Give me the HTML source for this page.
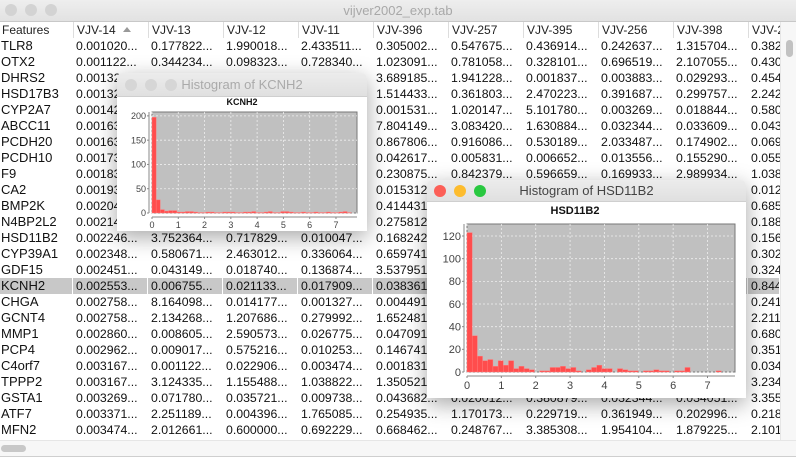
<!DOCTYPE html>
<html><head><meta charset="utf-8">
<style>
body{margin:0;width:796px;height:457px;overflow:hidden;background:#fff;font-family:"Liberation Sans",sans-serif;position:relative}
.abs{position:absolute}
#titlebar{left:0;top:0;width:796px;height:21px;background:linear-gradient(#eeeeee,#e2e2e2);border-bottom:1px solid #c8c8c8}
.dot{position:absolute;width:12px;height:12px;border-radius:50%;top:4px}
#maintitle{left:0;width:796px;top:3px;text-align:center;font-size:13px;color:#a8a8a8}
.hdr{position:absolute;top:22px;height:16px;font-size:12px;line-height:16px;color:#222;border-left:1px solid #ddd;padding-left:3px;box-sizing:border-box;white-space:nowrap;overflow:hidden}
.cell{position:absolute;height:16px;font-size:12.3px;line-height:16px;color:#111;white-space:nowrap;overflow:hidden;box-sizing:border-box;padding-left:3px}
.win{position:absolute;background:#fff;box-shadow:0 6px 22px rgba(0,0,0,0.35);border-radius:5px 5px 0 0;overflow:hidden}
.wtb{position:absolute;left:0;top:0;width:100%;background:linear-gradient(#ececec,#e0e0e0);border-bottom:1px solid #cfcfcf}
.wtt{position:absolute;width:100%;text-align:center;font-size:13px}
</style></head><body>
<div id="titlebar" class="abs">
 <div class="dot" style="left:5px;background:#d3d3d3"></div>
 <div class="dot" style="left:25px;background:#d3d3d3"></div>
 <div class="dot" style="left:45px;background:#d3d3d3"></div>
 <div id="maintitle" class="abs">vijver2002_exp.tab</div>
</div>
<div id="table"></div>
<div class="abs" style="left:780px;top:22px;width:16px;height:418px;background:#f7f7f7;border-left:1px solid #e6e6e6">
 <div class="abs" style="left:5px;top:18px;width:7px;height:17px;border-radius:4px;background:#c2c2c2"></div>
</div>
<div class="abs" style="left:0;top:440px;width:796px;height:15px;background:#f7f7f7;border-top:1px solid #e6e6e6;border-bottom:1px solid #cfcfcf">
 <div class="abs" style="left:1px;top:4px;width:25px;height:7px;border-radius:4px;background:#c8c8c8"></div>
</div>

<div class="win" style="left:117px;top:73px;width:250px;height:158px">
 <div class="wtb" style="height:23px">
  <div class="dot" style="left:8px;top:6px;background:#d6d6d6"></div>
  <div class="dot" style="left:28px;top:6px;background:#d6d6d6"></div>
  <div class="dot" style="left:48px;top:6px;background:#d6d6d6"></div>
  <div class="wtt" style="top:4px;color:#aaa">Histogram of KCNH2</div>
 </div>
 <svg id="svgK" class="abs" style="left:0;top:0" width="250" height="158"></svg>
</div>

<div class="win" style="left:427px;top:180px;width:319px;height:218px">
 <div class="wtb" style="height:21px">
  <div class="dot" style="left:7px;top:5px;background:#fc5f57"></div>
  <div class="dot" style="left:27px;top:5px;background:#fdbc2e"></div>
  <div class="dot" style="left:47px;top:5px;background:#29c840"></div>
  <div class="wtt" style="top:3px;color:#444">Histogram of HSD11B2</div>
 </div>
 <svg id="svgH" class="abs" style="left:0;top:0" width="319" height="218"></svg>
</div>

<script>
const headers=["Features","VJV-14","VJV-13","VJV-12","VJV-11","VJV-396","VJV-257","VJV-395","VJV-256","VJV-398","VJV-2"];
const genes=["TLR8","OTX2","DHRS2","HSD17B3","CYP2A7","ABCC11","PCDH20","PCDH10","F9","CA2","BMP2K","N4BP2L2","HSD11B2","CYP39A1","GDF15","KCNH2","CHGA","GCNT4","MMP1","PCP4","C4orf7","TPPP2","GSTA1","ATF7","MFN2"];
const c14=["0.001020","0.001122","0.001326","0.001326","0.001428","0.001633","0.001633","0.001735","0.001837","0.001939","0.002041","0.002143","0.002246","0.002348","0.002451","0.002553","0.002758","0.002758","0.002860","0.002962","0.003167","0.003167","0.003269","0.003371","0.003474"];
const c13=["0.177822","0.344234","0.412300","0.231100","0.120400","0.551200","0.092100","0.310200","0.041200","0.220100","0.120300","0.501100","3.752364","0.580671","0.043149","0.006755","8.164098","2.134268","0.008605","0.009017","0.001122","3.124335","0.071780","2.251189","2.012661"];
const c12=["1.990018","0.098323","0.512000","0.041200","0.231200","0.120000","0.640100","0.012300","0.330200","0.091000","0.210200","0.040100","0.717829","2.463012","0.018740","0.021133","0.014177","1.207686","2.590573","0.575216","0.022906","1.155488","0.035721","0.004396","0.600000"];
const c11=["2.433511","0.728340","0.230100","0.410200","0.051200","0.712300","0.020100","0.114300","0.220300","0.031200","0.410100","0.120200","0.010047","0.336064","0.136874","0.017909","0.001327","0.279992","0.026775","0.010253","0.003474","1.038822","0.009738","1.765085","0.692229"];
const c396=["0.305002","1.023091","3.689185","1.514433","0.001531","7.804149","0.867806","0.042617","0.230875","0.015312","0.414431","0.275812","0.168242","0.659741","3.537951","0.038361","0.004491","1.652481","0.047091","0.146741","0.001831","1.350521","0.043682","0.254935","0.668462"];
const c257=["0.547675","0.781058","1.941228","0.361803","1.020147","3.083420","0.916086","0.005831","0.842379","0.120100","0.331200","0.041200","0.212300","0.051200","0.410200","0.022100","0.310200","0.120300","0.051200","0.230100","0.011200","0.410200","0.020012","1.170173","0.248767"];
const c395=["0.436914","0.328101","0.001837","2.470223","5.101780","1.630884","0.530189","0.006652","0.596659","0.231200","0.110300","0.520100","0.041200","0.311200","0.120300","0.051200","0.214100","0.031200","0.610100","0.021200","0.120100","0.330100","0.380879","0.229719","3.385308"];
const c256=["0.242637","0.696519","0.003883","0.391687","0.003269","0.032344","2.033487","0.013556","0.169933","0.120100","0.230200","0.041100","0.310300","0.020100","0.110200","0.052300","0.410100","0.031200","0.210100","0.120200","0.041300","0.220100","0.032344","0.361949","1.954104"];
const c398=["1.315704","2.107055","0.029293","0.299757","0.018844","0.033609","0.174902","0.155290","2.989934","0.120100","0.310200","0.041300","0.220100","0.051200","0.130100","0.210200","0.031100","0.410100","0.120200","0.052100","0.021100","0.310100","0.034051","0.202996","1.879225"];
const c2=["0.382","0.430","0.454","2.242","0.580","0.043","0.069","0.055","1.038","0.012","0.685","0.188","0.156","0.302","0.324","0.844","0.241","2.211","0.680","0.351","0.034","3.234","3.355","0.218","2.101"];
const cols=[c14,c13,c12,c11,c396,c257,c395,c256,c398,c2];
const tbl=document.getElementById('table');
const colX=[0,73,148,223,298,373,448,523,598,673,748];
headers.forEach((h,i)=>{
  const d=document.createElement('div');d.className='hdr';
  d.style.left=colX[i]+'px';d.style.width=((i<10?colX[i+1]:780)-colX[i])+'px';
  if(i==0){d.style.borderLeft='none';d.style.paddingLeft='2px';}
  d.textContent=h;
  
  
  tbl.appendChild(d);
});
const arrow=document.createElement('div');
arrow.className='abs';arrow.style.cssText='left:123px;top:27px;width:0;height:0;border-left:4px solid transparent;border-right:4px solid transparent;border-bottom:5px solid #999';


tbl.appendChild(arrow);
genes.forEach((g,r)=>{
  const top=38+16*r;
  const sel=(g==='KCNH2');
  for(let c=0;c<11;c++){
    const d=document.createElement('div');d.className='cell';
    const w=((c<10?colX[c+1]:780)-colX[c]);
    d.style.left=colX[c]+'px';d.style.top=top+'px';d.style.width=w+'px';
    if(c==0){d.style.fontSize='13px';d.style.paddingLeft='1px';d.textContent=g;}
    else d.textContent=cols[c-1][r]+(c<10?'...':'');
    if(sel){d.style.background='#c8c8c8';d.style.borderRight='1px solid #fff';}
    
    
    tbl.appendChild(d);
  }
});

const NS='http://www.w3.org/2000/svg';
function el(svg,tag,attrs,name){const e=document.createElementNS(NS,tag);for(const k in attrs)e.setAttribute(k,attrs[k]);
  
  
  svg.appendChild(e);return e;}

const kcnhCounts=[197,27,7,4,5,5,2,2,3,3,2,1,1,2,2,1,1,2,2,2,1,1,2,2,3,1,1,2,3,1,1,3,3,2,1,1,2,1,1,2,1,1,2,1,1,2,3,1];
const kcnhBinWidth=0.158;
const kcnhYTicks=[0,50,100,150,200];
const kcnhXTicks=[0,1,2,3,4,5,6,7];
const hsdCounts=[123,32,14,10,11,5,10,6,10,3,5,3,2,0,1,1,4,4,5,3,4,1,0,2,4,6,3,3,0,3,2,1,1,0,1,1,2,1,1,0,1,1,4,0,0,0,0,0,1];
const hsdBinWidth=0.151;
const hsdYTicks=[0,20,40,60,80,100,120];
const hsdXTicks=[0,1,2,3,4,5,6,7];

function hist(svg,o){
  const {L,R,T,B,xmax,ymax,counts,bw,yt,xt,title,tx,ty,fs}=o;
  const sx=v=>L+(v/xmax)*(R-L), sy=v=>B-(v/ymax)*(B-T);
  el(svg,'text',{x:tx,y:ty,'text-anchor':'middle','font-size':fs,'font-weight':'bold','font-family':'Liberation Sans, sans-serif',fill:'#111'},'chart-title').textContent=title;
  el(svg,'rect',{x:L,y:T,width:R-L,height:B-T,fill:'#c0c0c0',stroke:'#777','stroke-width':1},'plot-area');
  xt.forEach(v=>el(svg,'line',{x1:sx(v),x2:sx(v),y1:T,y2:B,stroke:'#eee','stroke-dasharray':'2,2','stroke-width':0.8},'x-gridline'));
  yt.forEach(v=>el(svg,'line',{x1:L,x2:R,y1:sy(v),y2:sy(v),stroke:'#eee','stroke-dasharray':'2,2','stroke-width':0.8},'y-gridline'));
  counts.forEach((c,i)=>{ if(c>0) el(svg,'rect',{x:sx(i*bw),y:sy(c),width:sx(bw)-sx(0),height:B-sy(c),fill:'#ff4d4d',stroke:'#ff8080','stroke-width':0.4},'histogram-bar');});
  el(svg,'line',{x1:L-3,x2:L-3,y1:T,y2:B,stroke:'#888'},'y-axis-line');
  el(svg,'line',{x1:L,x2:R,y1:B+4,y2:B+4,stroke:'#888'},'x-axis-line');
  yt.forEach(v=>{el(svg,'line',{x1:L-5,x2:L-3,y1:sy(v),y2:sy(v),stroke:'#888'},'y-tick');
    el(svg,'text',{x:L-6,y:sy(v)+fs*0.35,'text-anchor':'end','font-size':fs,fill:'#444','font-family':'Liberation Sans, sans-serif'},'y-tick-label').textContent=v;});
  xt.forEach(v=>{el(svg,'line',{x1:sx(v),x2:sx(v),y1:B+4,y2:B+6,stroke:'#888'},'x-tick');
    el(svg,'text',{x:sx(v),y:B+6+fs,'text-anchor':'middle','font-size':fs,fill:'#444','font-family':'Liberation Sans, sans-serif'},'x-tick-label').textContent=v;});
}
hist(document.getElementById('svgK'),{L:35,R:240,T:39,B:140,xmax:7.8,ymax:208,counts:kcnhCounts,bw:kcnhBinWidth,yt:kcnhYTicks,xt:kcnhXTicks,title:'KCNH2',tx:125,ty:32,fs:9});
hist(document.getElementById('svgH'),{L:40,R:308,T:44,B:192,xmax:7.8,ymax:130.6,counts:hsdCounts,bw:hsdBinWidth,yt:hsdYTicks,xt:hsdXTicks,title:'HSD11B2',tx:148,ty:34,fs:11});
</script>
</body></html>
